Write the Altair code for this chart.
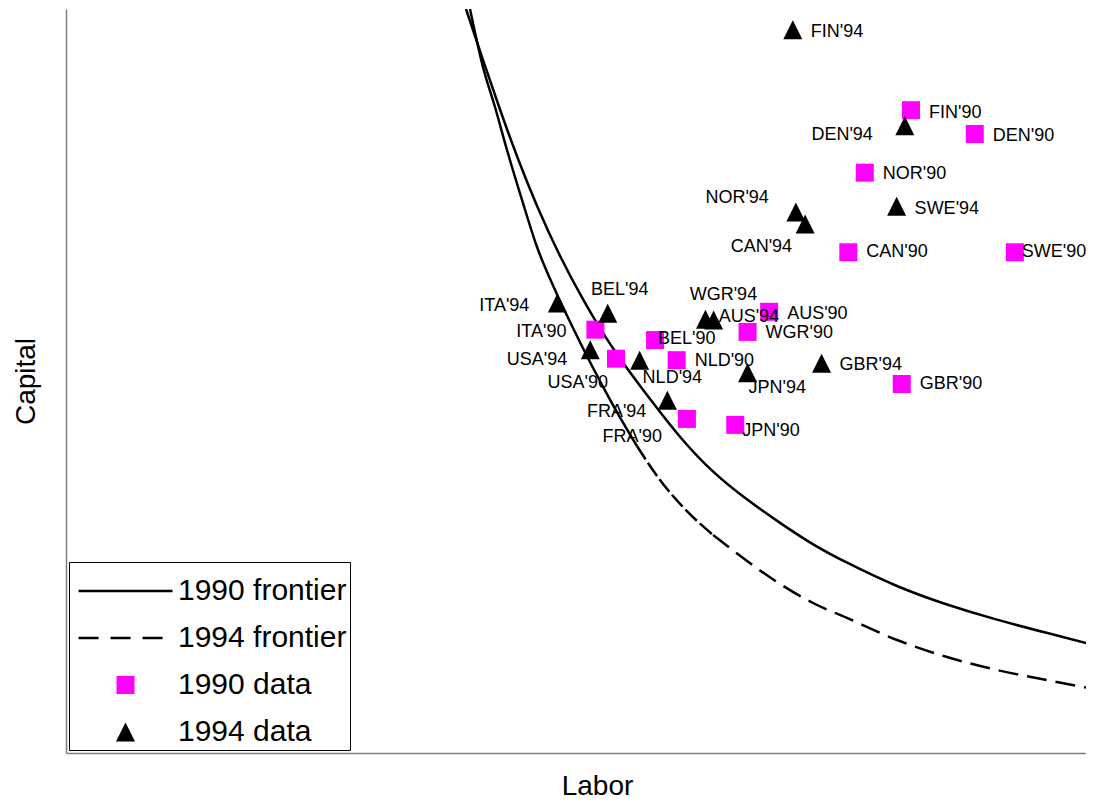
import altair as alt
import pandas as pd

FONT = "Liberation Sans, Arial, sans-serif"
PX_PER_X = 10.28            # pixels per labor unit
PX_PER_Y = 7.44             # pixels per capital unit
W, H = 1020, 744            # plot area in pixels
XMAX, YMAX = W / PX_PER_X, H / PX_PER_Y

# ---- 1990 observations (Labor, Capital in index units) ----
c90 = ["FIN'90", "DEN'90", "NOR'90", "CAN'90", "SWE'90", "AUS'90", "WGR'90",
       "ITA'90", "BEL'90", "USA'90", "NLD'90", "GBR'90", "FRA'90", "JPN'90"]
labor90 = [82.2, 88.4, 77.7, 76.1, 92.3, 68.4, 66.3, 51.5, 57.3, 53.5, 59.4, 81.3, 60.4, 65.1]
capital90 = [86.4, 83.2, 78.0, 67.3, 67.3, 59.3, 56.6, 56.9, 55.5, 53.0, 52.8, 49.6, 44.9, 44.1]
# label placement (text alignment and pixel offset from the marker)
align90 = ["left", "left", "left", "left", "left", "left", "left",
           "right", "left", "right", "left", "left", "right", "left"]
dx90 = [18, 18, 18, 18, 7, 18, 18, -29, 3, -8, 18, 18, -25, 7]
dy90 = [3, 2, 1, 0, 0, 2, 1, 2, -1, 24, 1, 0, 18, 6]

# ---- 1994 observations ----
c94 = ["FIN'94", "DEN'94", "NOR'94", "CAN'94", "SWE'94", "ITA'94", "BEL'94",
       "WGR'94", "AUS'94", "USA'94", "NLD'94", "FRA'94", "JPN'94", "GBR'94"]
labor94 = [70.7, 81.6, 71.0, 71.9, 80.8, 47.8, 52.7, 62.2, 63.0, 51.0, 55.8, 58.5, 66.3, 73.5]
capital94 = [97.2, 84.3, 72.7, 71.1, 73.5, 60.5, 59.1, 58.3, 58.2, 54.2, 52.8, 47.4, 51.1, 52.4]
align94 = ["left", "right", "right", "right", "left", "right", "center",
           "center", "left", "right", "left", "right", "left", "left"]
dx94 = [18, -32, -27, -13, 18, -28, 12, 18, 5, -23, 3, -21, 1, 18]
dy94 = [2, 9, -14, 23, 3, 3, -23, -24, -3, 10, 18, 12, 15, 2]

# ---- frontiers ----
f90_labor = [38.91, 40.56, 42.22, 43.87, 45.82, 48.05, 50.29, 52.43, 54.67, 57.10, 59.73,
             62.94, 66.25, 69.46, 72.67, 75.97, 80.84, 85.70, 90.56, 95.43, 100.0]
f90_capital = [100.0, 93.15, 86.42, 80.11, 73.39, 66.67, 60.89, 55.91, 51.48, 47.04, 42.34,
               37.63, 34.01, 30.91, 27.96, 25.54, 22.31, 19.89, 17.88, 16.13, 14.52]
f94_labor = [39.30, 40.56, 41.73, 42.90, 44.36, 45.82, 47.57, 49.32, 50.97, 53.21, 55.54,
             57.78, 60.02, 62.94, 66.25, 69.46, 72.67, 75.97, 80.84, 85.70, 90.56, 95.43, 100.0]
f94_capital = [100.0, 92.20, 86.83, 81.05, 74.33, 68.01, 62.23, 57.12, 52.55, 46.77, 41.26,
               36.69, 33.06, 29.30, 25.81, 22.72, 20.16, 18.15, 15.19, 12.90, 11.16, 9.81, 8.60]

series_domain = ["1990 frontier", "1994 frontier", "1990 data", "1994 data"]

pts = pd.DataFrame({
    "label": c90 + c94,
    "labor": labor90 + labor94,
    "capital": capital90 + capital94,
    "series": ["1990 data"] * len(c90) + ["1994 data"] * len(c94),
    "align": align90 + align94,
    "dx": dx90 + dx94,
    "dy": dy90 + dy94,
})
pts["lx"] = pts["labor"] + pts["dx"] / PX_PER_X
pts["ly"] = pts["capital"] - pts["dy"] / PX_PER_Y

f90 = pd.DataFrame({"labor": f90_labor, "capital": f90_capital})
f94 = pd.DataFrame({"labor": f94_labor, "capital": f94_capital})

xs = alt.Scale(domain=[0, XMAX], nice=False, zero=False)
ys = alt.Scale(domain=[0, YMAX], nice=False, zero=False)
x_axis = alt.Axis(title="Labor", titlePadding=19, titleX=531)
y_axis = alt.Axis(title="Capital", titlePadding=26)


def X(field):
    return alt.X(f"{field}:Q", scale=xs, axis=x_axis, title="Labor")


def Y(field):
    return alt.Y(f"{field}:Q", scale=ys, axis=y_axis, title="Capital")


def curve(df, dash=None, interp="monotone"):
    kw = dict(color="black", strokeWidth=2.5, interpolate=interp, clip=True)
    if dash is not None:
        kw["strokeDash"] = dash
    return alt.Chart(df).mark_line(**kw).encode(x=X("labor"), y=Y("capital"))


layers = [
    curve(f90, interp="basis"),
    curve(f94.iloc[0:11]),
    curve(f94.iloc[10:14], [16, 4]),
    curve(f94.iloc[13:], [20, 9]),
]

LINE = "M-1,0L1,0"
SQ = "M-0.1915,-0.1915L0.1915,-0.1915L0.1915,0.1915L-0.1915,0.1915Z"
TRI = "M0,-0.2021L-0.2021,0.2021L0.2021,0.2021Z"
leg = alt.Legend(title=" ", orient="bottom-left", clipHeight=30, titleFontSize=1, titlePadding=10,
                 padding=3, symbolOffset=5, labelOffset=4)

points = alt.Chart(pts).mark_point(filled=True, opacity=1, size=8836, strokeWidth=2.5).encode(
    x=X("labor"), y=Y("capital"),
    shape=alt.Shape("series:N", scale=alt.Scale(domain=series_domain, range=[LINE, LINE, SQ, TRI]), legend=leg),
    fill=alt.Fill("series:N", scale=alt.Scale(domain=series_domain,
                  range=["transparent", "transparent", "#ff00ff", "#000000"]), legend=leg),
    stroke=alt.Stroke("series:N", scale=alt.Scale(domain=series_domain,
                      range=["#000000", "#000000", "transparent", "transparent"]), legend=leg),
    strokeDash=alt.StrokeDash("series:N", scale=alt.Scale(domain=series_domain,
                              range=[[1, 0], [20, 12], [1, 0], [1, 0]]), legend=leg),
)
layers.append(points)

for al in ["left", "right", "center"]:
    layers.append(
        alt.Chart(pts).transform_filter(alt.datum.align == al)
        .mark_text(align=al, baseline="middle", fontSize=18, font=FONT, color="black")
        .encode(x=X("lx"), y=Y("ly"), text="label:N")
    )

chart = (
    alt.layer(*layers)
    .properties(width=W, height=H,
                padding={"left": 58, "top": 1, "right": 0, "bottom": 47},
                autosize=alt.AutoSizeParams(type="none"))
    .configure_view(stroke=None)
    .configure_axis(grid=False, ticks=False, labels=False, domainColor="#7f7f7f", domainWidth=1.5,
                    titleFont=FONT, titleFontSize=28, titleFontWeight="normal", titleColor="black")
    .configure_legend(strokeColor="black", fillColor="white", rowPadding=17,
                      labelFont=FONT, labelFontSize=30, labelColor="black",
                      labelLimit=500, symbolSize=8836, symbolStrokeWidth=2.5, symbolOpacity=1,
                      offset=3, strokeWidth=1)
)

chart.save("out.html", embed_options={"renderer": "svg", "actions": False})
